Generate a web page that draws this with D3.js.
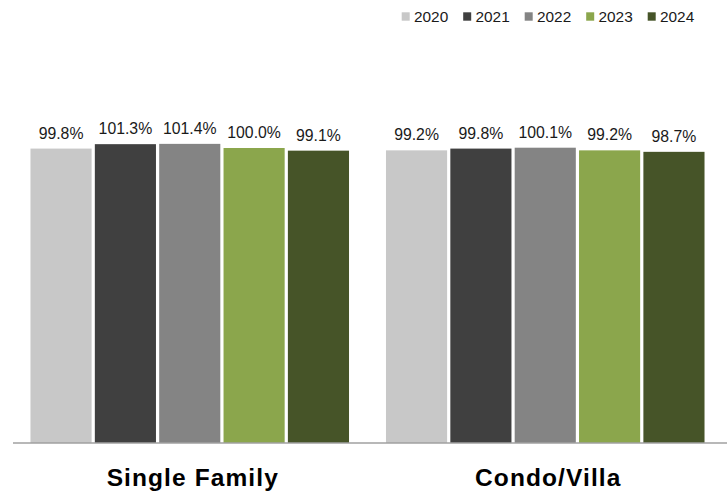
<!DOCTYPE html>
<html>
<head>
<meta charset="utf-8">
<script src="https://cdn.jsdelivr.net/npm/d3@7"></script>
<style>
  html, body { margin: 0; padding: 0; background: #ffffff; }
  svg { display: block; font-family: "Liberation Sans", Arial, Helvetica, sans-serif; }
</style>
</head>
<body>
<svg id="chart" width="727" height="493"></svg>
<script>
const categories = ["Single Family", "Condo/Villa"];
const years = ["2020", "2021", "2022", "2023", "2024"];
const values2020 = [99.8, 99.2];
const values2021 = [101.3, 99.8];
const values2022 = [101.4, 100.1];
const values2023 = [100.0, 99.2];
const values2024 = [99.1, 98.7];
const colors = ["#c8c8c8", "#404040", "#848484", "#8ba64c", "#465428"];
const yDomain = [0, 120];

const seriesValues = [values2020, values2021, values2022, values2023, values2024];
const data = categories.map((c, i) => ({
  category: c,
  bars: years.map((y, j) => ({ year: y, value: seriesValues[j][i], color: colors[j] }))
}));

const svg = d3.select("#chart");

const x0 = d3.scaleBand().domain(categories).range([12, 723]).paddingInner(0.104).paddingOuter(0.052);
const x1 = d3.scaleBand().domain(years).range([0, x0.bandwidth()]).paddingInner(0.05).paddingOuter(0);
const y = d3.scaleLinear().domain(yDomain).range([443, 89]);

const groups = svg.append("g").selectAll("g")
  .data(data).join("g")
  .attr("transform", d => `translate(${x0(d.category)},0)`);

groups.selectAll("rect")
  .data(d => d.bars).join("rect")
  .attr("x", d => x1(d.year))
  .attr("y", d => y(d.value))
  .attr("width", x1.bandwidth())
  .attr("height", d => y(0) - y(d.value))
  .attr("fill", d => d.color);

groups.selectAll("text.val")
  .data(d => d.bars).join("text")
  .attr("class", "val")
  .attr("x", d => x1(d.year) + x1.bandwidth() / 2)
  .attr("y", d => y(d.value) - 10)
  .attr("text-anchor", "middle")
  .attr("font-size", "15.8px")
  .attr("fill", "#1a1a1a")
  .text(d => d.value.toFixed(1) + "%");

// baseline axis
const xAxis = d3.axisBottom(x0).tickSize(0).tickFormat("");
const axisG = svg.append("g").attr("transform", `translate(0,${y(0)})`).call(xAxis);
axisG.select(".domain").attr("stroke", "#a0a0a0").attr("stroke-width", 1.5)
  .attr("d", "M13,0H727");

// category labels
svg.append("g").selectAll("text")
  .data(categories).join("text")
  .attr("x", d => x0(d) + x0.bandwidth() / 2 + 3)
  .attr("y", 486)
  .attr("text-anchor", "middle")
  .attr("font-size", "24.5px")
  .attr("font-weight", "bold")
  .attr("letter-spacing", "1.1px")
  .attr("fill", "#000")
  .text(d => d);

// legend
const legend = svg.append("g").attr("transform", "translate(401.7,0)");
const item = legend.selectAll("g").data(years).join("g")
  .attr("transform", (d, i) => `translate(${i * 61.5},0)`);
item.append("rect")
  .attr("x", 0).attr("y", 12.3)
  .attr("width", 8).attr("height", 8.4)
  .attr("fill", (d, i) => colors[i]);
item.append("text")
  .attr("x", 12.3).attr("y", 22)
  .attr("font-size", "15.4px")
  .attr("fill", "#1a1a1a")
  .text(d => d);
</script>
</body>
</html>
